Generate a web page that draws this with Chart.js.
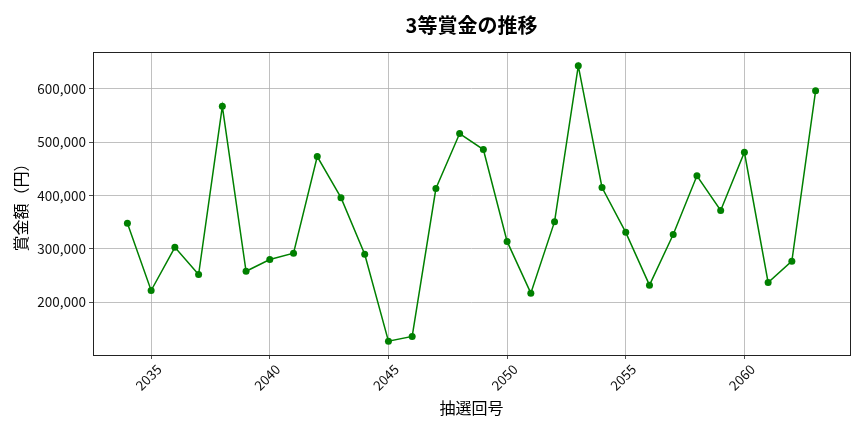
<!DOCTYPE html>
<html><head><meta charset="utf-8">
<script src="https://cdn.jsdelivr.net/npm/chart.js@4"></script>
<style>html,body{margin:0;padding:0;background:#fff}#wrap{width:864px;height:432px;position:relative}</style>
</head><body><div id="wrap"><canvas id="c"></canvas></div>
<script>
const draws = [2034,2035,2036,2037,2038,2039,2040,2041,2042,2043,2044,2045,2046,2047,2048,2049,2050,2051,2052,2053,2054,2055,2056,2057,2058,2059,2060,2061,2062,2063];
const prizes = [348000,222000,303000,252000,567000,258000,280000,292000,473000,396000,290000,127000,136000,413000,516000,486000,314000,217000,351000,643000,415000,331000,232000,327000,437000,372000,481000,237000,277000,596000];
const xTicks = [2035,2040,2045,2050,2055,2060];
const yTicks = [200000,300000,400000,500000,600000];
const titleText = '3等賞金の推移';
const xLabel = '抽選回号';
const yLabel = '賞金額（円）';

const FONT = "'Noto Sans CJK JP','Noto Sans',sans-serif";
const frame = {
  id: 'frame',
  afterDatasetsDraw(chart) {
    const a = chart.chartArea, ctx = chart.ctx;
    ctx.save();
    ctx.strokeStyle = '#222';
    ctx.lineWidth = 1;
    ctx.strokeRect(Math.round(a.left) + 0.5, Math.round(a.top) + 0.5, Math.round(a.right - a.left), Math.round(a.bottom - a.top));
    ctx.restore();
  },
  afterDraw(chart) {
    const a = chart.chartArea, ctx = chart.ctx;
    ctx.save();
    ctx.fillStyle = '#000';
    ctx.font = "bold 20px " + FONT;
    ctx.textAlign = 'center';
    ctx.textBaseline = 'middle';
    ctx.fillText(titleText, (a.left + a.right) / 2, 25);
    ctx.restore();
  }
};

new Chart(document.getElementById('c'), {
  type: 'line',
  data: {
    datasets: [{
      data: draws.map((d, i) => ({x: d, y: prizes[i]})),
      borderColor: '#008000',
      backgroundColor: '#008000',
      borderWidth: 1.5,
      pointRadius: 3.5,
      pointHoverRadius: 3.5,
      pointBorderWidth: 0,
      tension: 0,
      fill: false
    }]
  },
  options: {
    responsive: true,
    maintainAspectRatio: false,
    animation: false,
    devicePixelRatio: 1,
    layout: {padding: {left: 0, right: 14, top: 52, bottom: 0}},
    plugins: {
      legend: {display: false},
      tooltip: {enabled: false},
      title: {display: false}
    },
    scales: {
      x: {
        type: 'linear',
        min: 2032.55,
        max: 2064.45,
        afterBuildTicks(s) { s.ticks = xTicks.map(v => ({value: v})); },
        afterFit(s) { s.height = 77; },
        border: {display: false},
        grid: {color: '#b0b0b0', lineWidth: 0.8, tickLength: 4, tickColor: '#222', drawTicks: true},
        ticks: {
          autoSkip: false, maxRotation: 45, minRotation: 45, padding: 2, labelOffset: 8,
          color: '#111', font: {family: FONT, size: 13.5},
          callback: v => String(v)
        },
        title: {display: true, text: xLabel, color: '#000', font: {family: FONT, size: 16}, padding: {top: 0, bottom: 14.4}}
      },
      y: {
        type: 'linear',
        min: 101200,
        max: 668800,
        afterBuildTicks(s) { s.ticks = yTicks.map(v => ({value: v})); },
        afterFit(s) { s.width = 93; },
        border: {display: false},
        grid: {color: '#b0b0b0', lineWidth: 0.8, tickLength: 4, tickColor: '#222', drawTicks: true},
        ticks: {
          autoSkip: false, padding: 3, color: '#111', font: {family: FONT, size: 13.5},
          callback: v => v.toLocaleString('en-US')
        },
        title: {display: true, text: yLabel, color: '#000', font: {family: FONT, size: 16}, padding: {top: 11, bottom: 0}}
      }
    }
  },
  plugins: [frame]
});
</script>
</body></html>
